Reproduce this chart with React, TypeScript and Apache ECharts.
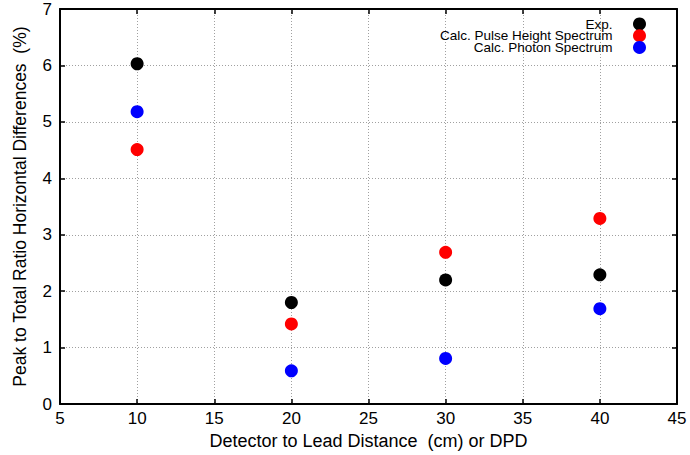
import React, { useEffect, useRef } from "react";
import * as echarts from "echarts";

const xValues = [10, 20, 30, 40];
const expValues = [6.03, 1.8, 2.2, 2.29];
const pulseHeightValues = [4.51, 1.42, 2.69, 3.29];
const photonValues = [5.18, 0.59, 0.81, 1.69];
const seriesNames = ["Exp.", "Calc. Pulse Height Spectrum", "Calc. Photon Spectrum"];
const seriesColors = ["#000000", "#ff0000", "#0000ff"];

const FONT = "'Liberation Sans', Arial, Helvetica, sans-serif";

export default function App() {
  const ref = useRef<HTMLDivElement>(null);
  useEffect(() => {
    if (!ref.current) return;
    const chart = echarts.init(ref.current, undefined, { renderer: "svg" });
    const allValues = [expValues, pulseHeightValues, photonValues];
    const gridLine = { show: true, lineStyle: { color: "#a0a0a0", width: 1, type: [1, 2] as any } };
    const axisLine = { show: true, onZero: false, lineStyle: { color: "#000", width: 2 } };
    const tick = { show: true, inside: true, length: 5, lineStyle: { color: "#000", width: 1.5 } };
    chart.setOption({
      animation: false,
      backgroundColor: "#fff",
      textStyle: { fontFamily: FONT },
      grid: { left: 60, right: 13, top: 9, bottom: 50, containLabel: false },
      legend: {
        orient: "vertical",
        align: "right",
        right: 39,
        top: 12,
        itemWidth: 14,
        itemHeight: 13,
        itemGap: -2.3,
        textStyle: {
          fontSize: 13.5,
          color: "#000",
          fontFamily: FONT,
          padding: [0, 15, 0, 0],
        },
        data: seriesNames.map((n) => ({ name: n, icon: "circle" })),
      },
      xAxis: [
        {
          type: "value",
          min: 5,
          max: 45,
          interval: 5,
          name: "Detector to Lead Distance  (cm) or DPD",
          nameLocation: "middle",
          nameGap: 25,
          nameTextStyle: { fontSize: 18, color: "#000", fontFamily: FONT },
          axisLine,
          axisTick: tick,
          axisLabel: { fontSize: 17, color: "#000", margin: 6, fontFamily: FONT },
          splitLine: gridLine,
        },
        {
          type: "value",
          position: "top",
          min: 5,
          max: 45,
          interval: 5,
          axisLine,
          axisTick: tick,
          axisLabel: { show: false },
          splitLine: { show: false },
        },
      ],
      yAxis: [
        {
          type: "value",
          min: 0,
          max: 7,
          interval: 1,
          name: "Peak to Total Ratio Horizontal Differences  (%)",
          nameLocation: "middle",
          nameGap: 31,
          nameTextStyle: { fontSize: 17.5, color: "#000", fontFamily: FONT },
          axisLine,
          axisTick: tick,
          axisLabel: { fontSize: 17, color: "#000", margin: 8, fontFamily: FONT },
          splitLine: gridLine,
        },
        {
          type: "value",
          position: "right",
          min: 0,
          max: 7,
          interval: 1,
          axisLine,
          axisTick: tick,
          axisLabel: { show: false },
          splitLine: { show: false },
        },
      ],
      series: seriesNames.map((name, i) => ({
        name,
        type: "scatter",
        symbol: "circle",
        symbolSize: 13,
        itemStyle: { color: seriesColors[i], opacity: 1 },
        data: xValues.map((x, j) => [x, allValues[i][j]]),
      })),
    });
    return () => chart.dispose();
  }, []);
  return (
    <div
      ref={ref}
      style={{ position: "fixed", left: 0, top: 0, width: 690, height: 455, background: "#fff" }}
    />
  );
}
